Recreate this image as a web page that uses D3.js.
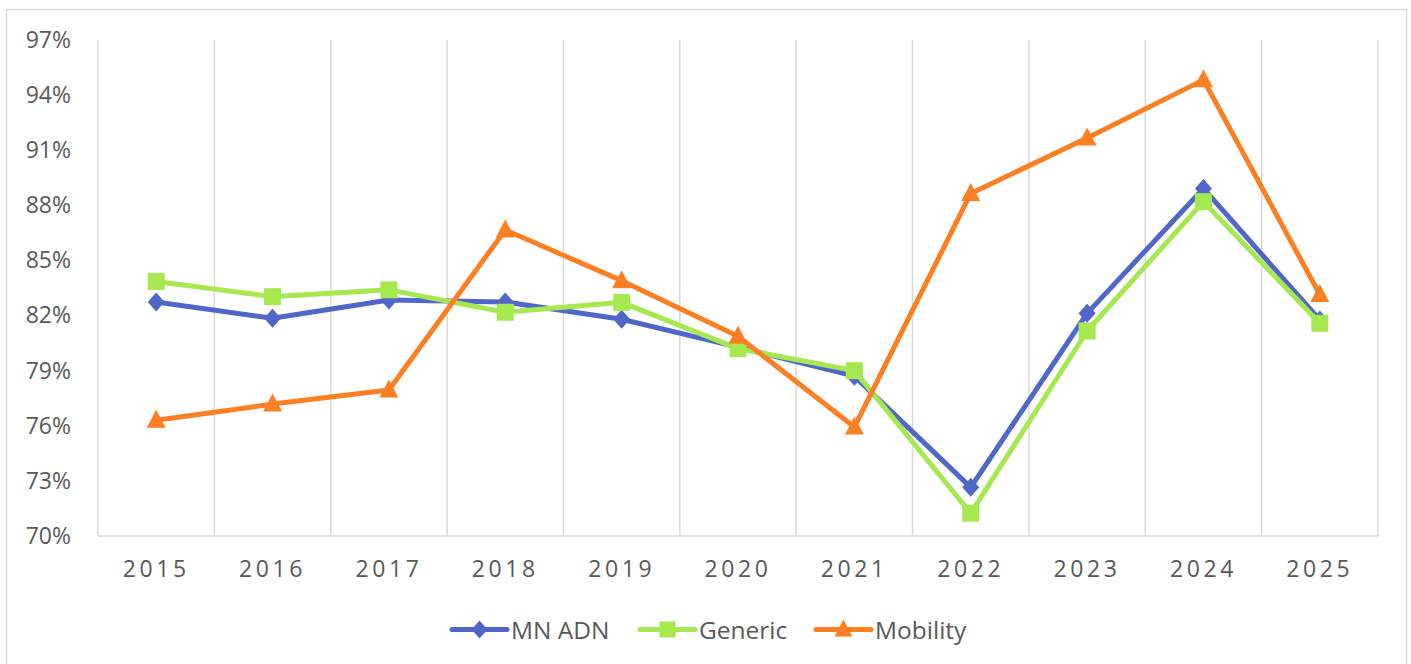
<!DOCTYPE html>
<html>
<head>
<meta charset="utf-8">
<script src="https://cdn.jsdelivr.net/npm/d3@7"></script>
<style>
  body { margin: 0; background: #fff; }
  text { font-family: "Open Sans", sans-serif; fill: #595959; }
</style>
</head>
<body>
<script>
var years = ["2015", "2016", "2017", "2018", "2019", "2020", "2021", "2022", "2023", "2024", "2025"],
	mnAdn = [82.74, 81.85, 82.85, 82.74, 81.8, 80.28, 78.7, 72.65, 82.12, 88.92, 81.76],
	generic = [83.85, 83.03, 83.4, 82.18, 82.72, 80.2, 79.0, 71.24, 81.16, 88.2, 81.58],
	mobility = [76.3, 77.18, 77.95, 86.66, 83.9, 80.87, 75.93, 88.65, 91.66, 94.83, 83.14],
	yTicks = [70, 73, 76, 79, 82, 85, 88, 91, 94, 97];

var series = [
	{ name: "MN ADN", values: mnAdn, color: "#4f67c9", marker: "diamond" },
	{ name: "Generic", values: generic, color: "#a6e84f", marker: "square" },
	{ name: "Mobility", values: mobility, color: "#fd7f23", marker: "triangle" }
];

var width = 1411, height = 664,
	plot = { left: 98, right: 1378, top: 40, bottom: 536 };

var svg = d3.select("body").append("svg")
	.attr("width", width)
	.attr("height", height);

// chart frame
svg.append("rect")
	.attr("x", 6.5).attr("y", 9.5)
	.attr("width", 1400).attr("height", 700)
	.attr("fill", "none")
	.attr("stroke", "#d9d9d9")
	.attr("stroke-width", 1.5);

var x = d3.scaleBand()
	.domain(years)
	.range([plot.left, plot.right])
	.padding(0);

var y = d3.scaleLinear()
	.domain([70, 97])
	.range([plot.bottom, plot.top]);

// vertical gridlines at category boundaries
var bounds = years.map(function(d) { return x(d); }).concat([plot.right]);
svg.selectAll(".grid")
	.data(bounds)
	.enter().append("line")
	.attr("class", "grid")
	.attr("x1", function(d) { return d; })
	.attr("x2", function(d) { return d; })
	.attr("y1", plot.top)
	.attr("y2", plot.bottom)
	.attr("stroke", "#d9d9d9")
	.attr("stroke-width", 1.5);

svg.append("line")
	.attr("x1", plot.left).attr("x2", plot.right)
	.attr("y1", plot.bottom).attr("y2", plot.bottom)
	.attr("stroke", "#d9d9d9")
	.attr("stroke-width", 1.5);

// y axis labels
var yAxis = svg.append("g")
	.attr("transform", "translate(" + plot.left + ",0)")
	.call(d3.axisLeft(y).tickValues(yTicks).tickSize(0).tickPadding(27)
		.tickFormat(function(d) { return d + "%"; }));
yAxis.select(".domain").remove();
yAxis.selectAll("text")
	.style("font-family", "'Open Sans', sans-serif")
	.style("font-size", "23px")
	.attr("fill", "#595959");

// x axis labels
var xAxis = svg.append("g")
	.attr("transform", "translate(0," + plot.bottom + ")")
	.call(d3.axisBottom(x).tickSize(0).tickPadding(25));
xAxis.select(".domain").remove();
xAxis.selectAll("text")
	.style("font-family", "'Open Sans', sans-serif")
	.style("font-size", "23px")
	.style("letter-spacing", "3.6px")
	.attr("fill", "#595959");

function markerPath(type, s) {
	var h = s / 2;
	if (type === "diamond") return "M0," + (-h - 1) + "L" + h + ",0L0," + (h + 1) + "L" + (-h) + ",0Z";
	if (type === "square") return "M" + (-h) + "," + (-h) + "h" + s + "v" + s + "h" + (-s) + "Z";
	return "M0," + (-h - 2) + "L" + (h + 1) + "," + (h - 1) + "L" + (-h - 1) + "," + (h - 1) + "Z";
}

var line = d3.line()
	.x(function(d, i) { return x(years[i]) + x.bandwidth() / 2; })
	.y(function(d) { return y(d); });

series.forEach(function(s) {
	var g = svg.append("g").attr("class", "series");
	g.append("path")
		.datum(s.values)
		.attr("d", line)
		.attr("fill", "none")
		.attr("stroke", s.color)
		.attr("stroke-width", 5)
		.attr("stroke-linejoin", "round")
		.attr("stroke-linecap", "round");
	g.selectAll(".pt")
		.data(s.values)
		.enter().append("path")
		.attr("class", "pt")
		.attr("transform", function(d, i) {
			return "translate(" + (x(years[i]) + x.bandwidth() / 2) + "," + y(d) + ")";
		})
		.attr("d", markerPath(s.marker, 17))
		.attr("fill", s.color);
});

// legend
var legendX = [452, 640, 816];
var legend = svg.selectAll(".legend")
	.data(series)
	.enter().append("g")
	.attr("class", "legend")
	.attr("transform", function(d, i) { return "translate(" + legendX[i] + ",629.5)"; });

legend.append("line")
	.attr("x1", 0).attr("x2", 55)
	.attr("y1", 0).attr("y2", 0)
	.attr("stroke", function(d) { return d.color; })
	.attr("stroke-width", 5)
	.attr("stroke-linecap", "round");

legend.append("path")
	.attr("transform", "translate(27.5,0)")
	.attr("d", function(d) { return markerPath(d.marker, 16); })
	.attr("fill", function(d) { return d.color; });

legend.append("text")
	.attr("x", 59)
	.attr("y", 9)
	.style("font-size", "24.5px")
	.text(function(d) { return d.name; });
</script>
</body>
</html>
